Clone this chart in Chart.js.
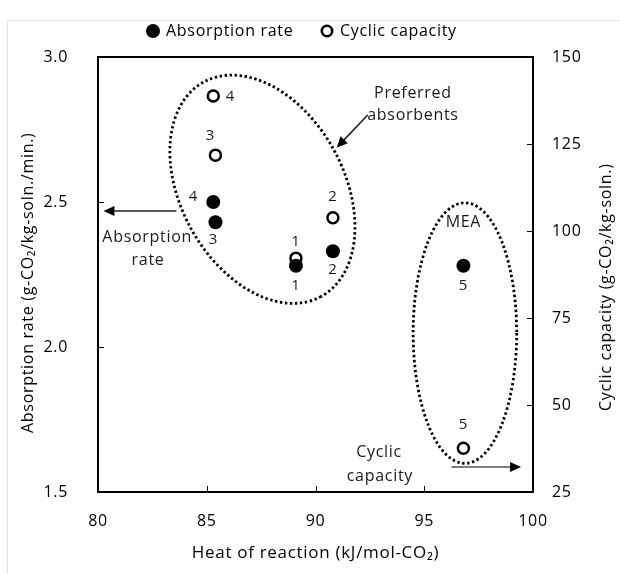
<!DOCTYPE html>
<html>
<head>
<meta charset="utf-8">
<script src="https://cdn.jsdelivr.net/npm/chart.js@4.4.1/dist/chart.umd.min.js"></script>
<style>
  html, body { margin: 0; padding: 0; background: #fff; }
  #wrap { width: 620px; height: 573px; position: relative; }
</style>
</head>
<body>
<div id="wrap"><canvas id="c" width="620" height="573"></canvas></div>
<script>
// ---------- data ----------
const absorbentIds   = ['1', '2', '3', '4', '5'];
const heatOfReaction = [89.1, 90.8, 85.4, 85.3, 96.8];      // kJ/mol-CO2
const absorptionRate = [2.28, 2.33, 2.43, 2.50, 2.28];      // g-CO2/kg-soln./min.
const cyclicCapacity = [92.2, 103.8, 121.8, 138.8, 37.6];   // g-CO2/kg-soln.
const xTicks  = [80, 85, 90, 95, 100];
const yTicks  = [1.5, 2.0, 2.5, 3.0];
const y1Ticks = [25, 50, 75, 100, 125, 150];
const xTitle  = 'Heat of reaction (kJ/mol-CO\u2082)';
const yTitle  = 'Absorption rate (g-CO\u2082/kg-soln./min.)';
const y1Title = 'Cyclic capacity (g-CO\u2082/kg-soln.)';

// ---------- annotation layout (data coordinates + pixel offsets) ----------
const rateLabelOffsets   = [[0, 20], [0, 18], [-2, 17], [-20, -5], [0, 20]];
const cyclicLabelOffsets = [[0, -16], [0, -21], [-5, -19], [17, 1], [0, -23]];

const FONT = '"Open Sans", "DejaVu Sans", sans-serif';
const TXT = '#000';

const annotations = {
  id: 'annotations',
  beforeDraw(chart) {
    const ctx = chart.ctx;
    ctx.save();
    ctx.fillStyle = '#fff';
    ctx.fillRect(0, 0, chart.width, chart.height);
    ctx.strokeStyle = '#e2e2e2';
    ctx.lineWidth = 1;
    ctx.beginPath();
    ctx.moveTo(7.5, chart.height); ctx.lineTo(7.5, 20.5); ctx.lineTo(chart.width, 20.5);
    ctx.stroke();
    ctx.restore();
    ctx.letterSpacing = '0.7px';
  },
  afterDatasetsDraw(chart) {
    const ctx = chart.ctx;
    const xs = chart.scales.x, ys = chart.scales.y, y1s = chart.scales.y1;
    const ca = chart.chartArea;
    const pxPerX = Math.abs(xs.getPixelForValue(1) - xs.getPixelForValue(0));
    ctx.save();

    // dotted ellipses
    ctx.strokeStyle = '#000';
    ctx.lineWidth = 2.8;
    ctx.setLineDash([2.4, 2.6]);
    const ellipses = [
      { x: 87.56, y: 2.544, rx: 5.62, ry: 3.75, rot: 61.3 },
      { x: 96.87, y: 2.048, rx: 2.38, ry: 5.99, rot: 0 }
    ];
    ellipses.forEach(e => {
      ctx.beginPath();
      ctx.ellipse(xs.getPixelForValue(e.x), ys.getPixelForValue(e.y),
                  e.rx * pxPerX, e.ry * pxPerX, e.rot * Math.PI / 180, 0, Math.PI * 2);
      ctx.stroke();
    });
    ctx.setLineDash([]);

    // arrows
    const arrow = (x0, y0, x1, y1, col) => {
      const a = Math.atan2(y1 - y0, x1 - x0);
      const L = 11, W = 5;
      ctx.strokeStyle = col; ctx.lineWidth = 1.6;
      ctx.beginPath();
      ctx.moveTo(x0, y0);
      ctx.lineTo(x1 - Math.cos(a) * L * 0.8, y1 - Math.sin(a) * L * 0.8);
      ctx.stroke();
      ctx.fillStyle = '#000';
      ctx.beginPath();
      ctx.moveTo(x1, y1);
      ctx.lineTo(x1 - Math.cos(a) * L - Math.sin(a) * W, y1 - Math.sin(a) * L + Math.cos(a) * W);
      ctx.lineTo(x1 - Math.cos(a) * L + Math.sin(a) * W, y1 - Math.sin(a) * L - Math.cos(a) * W);
      ctx.closePath();
      ctx.fill();
    };
    const P = (x, y) => [xs.getPixelForValue(x), ys.getPixelForValue(y)];
    let [a0x, a0y] = P(92.4, 2.8);  let [a1x, a1y] = P(90.97, 2.687);
    arrow(a0x, a0y, a1x, a1y, '#222');
    [a0x, a0y] = P(83.6, 2.469); [a1x, a1y] = P(80.25, 2.469);
    arrow(a0x, a0y, a1x, a1y, '#222');
    [a0x, a0y] = P(96.25, 1.586); [a1x, a1y] = P(99.45, 1.586);
    arrow(a0x, a0y, a1x, a1y, '#555');

    // annotation texts
    ctx.fillStyle = '#1a1a1a';
    ctx.font = '16px ' + FONT;
    ctx.textAlign = 'center';
    ctx.textBaseline = 'middle';
    const T = (s, x, y) => { const [px, py] = P(x, y); ctx.fillText(s, px, py); };
    T('Preferred', 94.48, 2.876);
    T('absorbents', 94.48, 2.800);
    T('Absorption', 82.26, 2.379);
    T('rate', 82.30, 2.300);
    T('Cyclic', 92.92, 1.638);
    T('capacity', 92.96, 1.552);
    T('MEA', 96.8, 2.428);

    // point labels
    ctx.font = '15px ' + FONT;
    absorbentIds.forEach((id, i) => {
      const px = xs.getPixelForValue(heatOfReaction[i]);
      let o = rateLabelOffsets[i];
      ctx.fillText(id, px + o[0], ys.getPixelForValue(absorptionRate[i]) + o[1]);
      o = cyclicLabelOffsets[i];
      ctx.fillText(id, px + o[0], y1s.getPixelForValue(cyclicCapacity[i]) + o[1]);
    });

    // plot frame
    ctx.strokeStyle = '#000';
    ctx.lineWidth = 2;
    ctx.strokeRect(ca.left, ca.top, ca.right - ca.left, ca.bottom - ca.top);

    // inner tick marks
    ctx.lineWidth = 1;
    ctx.beginPath();
    xTicks.slice(1, -1).forEach(v => {
      const px = Math.round(xs.getPixelForValue(v)) + 0.5;
      ctx.moveTo(px, ca.bottom); ctx.lineTo(px, ca.bottom - 6);
    });
    yTicks.slice(1, -1).forEach(v => {
      const py = Math.round(ys.getPixelForValue(v)) + 0.5;
      ctx.moveTo(ca.left, py); ctx.lineTo(ca.left + 6, py);
    });
    y1Ticks.slice(1, -1).forEach(v => {
      const py = Math.round(y1s.getPixelForValue(v)) + 0.5;
      ctx.moveTo(ca.right, py); ctx.lineTo(ca.right - 6, py);
    });
    ctx.stroke();
    ctx.restore();
  },
  afterDraw(chart) {
    const ctx = chart.ctx;
    ctx.save();
    // legend
    ctx.font = '16px ' + FONT;
    ctx.textAlign = 'left';
    ctx.textBaseline = 'middle';
    const ly = 31;
    const items = [[153, 166], [327, 340]];
    chart.data.datasets.forEach((ds, i) => {
      const [cx, tx] = items[i];
      ctx.beginPath();
      ctx.arc(cx, ly, i === 0 ? 7 : 5.2, 0, Math.PI * 2);
      ctx.fillStyle = ds.pointBackgroundColor;
      ctx.fill();
      if (i === 1) { ctx.lineWidth = 2.6; ctx.strokeStyle = ds.pointBorderColor; ctx.stroke(); }
      ctx.fillStyle = TXT;
      ctx.fillText(ds.label, tx, ly);
    });
    // vertical axis titles (both read bottom-to-top)
    const vTitle = (text, x, yStart) => {
      ctx.save();
      ctx.translate(x, yStart);
      ctx.rotate(-Math.PI / 2);
      ctx.textAlign = 'left';
      ctx.textBaseline = 'middle';
      ctx.fillStyle = TXT;
      ctx.fillText(text, 0, 0);
      ctx.restore();
    };
    vTitle(yTitle, 28, 433);
    vTitle(y1Title, 606, 411);
    ctx.restore();
  }
};

const pts = (ys) => heatOfReaction.map((x, i) => ({ x: x, y: ys[i] }));

new Chart(document.getElementById('c'), {
  type: 'scatter',
  data: {
    datasets: [
      {
        label: 'Absorption rate',
        data: pts(absorptionRate),
        yAxisID: 'y',
        pointRadius: 7,
        pointBackgroundColor: '#000',
        pointBorderColor: '#000',
        pointBorderWidth: 0
      },
      {
        label: 'Cyclic capacity',
        data: pts(cyclicCapacity),
        yAxisID: 'y1',
        pointRadius: 5.5,
        pointBackgroundColor: '#fff',
        pointBorderColor: '#000',
        pointBorderWidth: 2.5
      }
    ]
  },
  options: {
    responsive: false,
    animation: false,
    layout: { padding: { top: 57, left: 0, right: 0, bottom: 0 } },
    plugins: { legend: { display: false }, tooltip: { enabled: false } },
    scales: {
      x: {
        type: 'linear', min: 80, max: 100,
        afterBuildTicks: s => { s.ticks = xTicks.map(v => ({ value: v })); },
        afterFit: s => { s.height = 81; },
        grid: { display: false, drawTicks: false },
        border: { display: false },
        ticks: { padding: 20, color: TXT, font: { family: FONT, size: 16 } },
        title: { display: true, text: xTitle, color: TXT,
                 font: { family: FONT, size: 17 }, padding: { top: 0, bottom: 10 } }
      },
      y: {
        type: 'linear', position: 'left', min: 1.5, max: 3.0,
        afterBuildTicks: s => { s.ticks = yTicks.map(v => ({ value: v })); },
        afterFit: s => { s.width = 98; },
        grid: { display: false, drawTicks: false },
        border: { display: false },
        ticks: { padding: 30, color: TXT, font: { family: FONT, size: 16 },
                 callback: v => Number(v).toFixed(1) }
      },
      y1: {
        type: 'linear', position: 'right', min: 25, max: 150,
        afterBuildTicks: s => { s.ticks = y1Ticks.map(v => ({ value: v })); },
        afterFit: s => { s.width = 87; },
        grid: { display: false, drawTicks: false },
        border: { display: false },
        ticks: { padding: 19, color: TXT, font: { family: FONT, size: 16 } }
      }
    }
  },
  plugins: [annotations]
});
</script>
</body>
</html>
